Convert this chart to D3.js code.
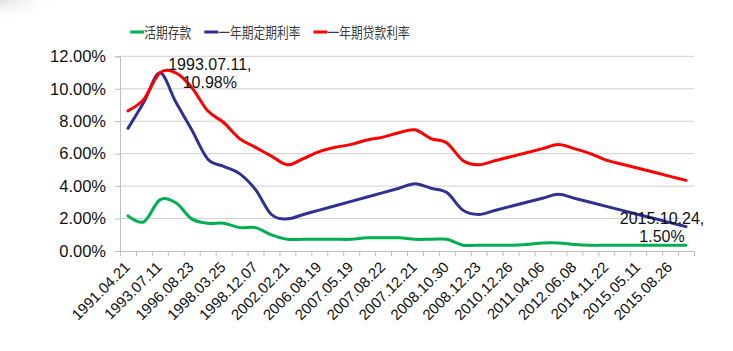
<!DOCTYPE html>
<html>
<head>
<meta charset="utf-8">
<script src="https://cdn.jsdelivr.net/npm/d3@7"></script>
<style>
  body { margin: 0; background: #fff; }
  svg { display: block; }
</style>
</head>
<body>
<svg width="733" height="351"></svg>
<script>
// Dates of each rate change (categories)
const dates = [
  "1991.04.21", "1993.05.15", "1993.07.11", "1996.05.01", "1996.08.23", "1997.10.23",
  "1998.03.25", "1998.07.01", "1998.12.07", "1999.06.10", "2002.02.21", "2006.04.28",
  "2006.08.19", "2007.03.18", "2007.05.19", "2007.07.21", "2007.08.22", "2007.09.15",
  "2007.12.21", "2008.10.09", "2008.10.30", "2008.11.27", "2008.12.23", "2010.10.20",
  "2010.12.26", "2011.02.09", "2011.04.06", "2011.07.07", "2012.06.08", "2012.07.06",
  "2014.11.22", "2015.03.01", "2015.05.11", "2015.06.28", "2015.08.26", "2015.10.24"
];

// Series values (percent)
const demandDeposit = [
  2.16, 1.80, 3.15, 2.97, 1.98, 1.71, 1.71, 1.44, 1.44, 0.99, 0.72, 0.72,
  0.72, 0.72, 0.72, 0.81, 0.81, 0.81, 0.72, 0.72, 0.72, 0.36, 0.36, 0.36,
  0.36, 0.40, 0.50, 0.50, 0.40, 0.35, 0.35, 0.35, 0.35, 0.35, 0.35, 0.35
];
const oneYearDeposit = [
  7.56, 9.18, 10.98, 9.18, 7.47, 5.67, 5.22, 4.77, 3.78, 2.25, 1.98, 2.25,
  2.52, 2.79, 3.06, 3.33, 3.60, 3.87, 4.14, 3.87, 3.60, 2.52, 2.25, 2.50,
  2.75, 3.00, 3.25, 3.50, 3.25, 3.00, 2.75, 2.50, 2.25, 2.00, 1.75, 1.50
];
const oneYearLoan = [
  8.64, 9.36, 10.98, 10.98, 10.08, 8.64, 7.92, 6.93, 6.39, 5.85, 5.31, 5.70,
  6.12, 6.39, 6.57, 6.84, 7.02, 7.29, 7.47, 6.93, 6.66, 5.58, 5.31, 5.56,
  5.81, 6.06, 6.31, 6.56, 6.31, 6.00, 5.60, 5.35, 5.10, 4.85, 4.60, 4.35
];

const seriesNames = ["活期存款", "一年期定期利率", "一年期贷款利率"];
const seriesColors = ["#00B050", "#2E3192", "#FF0000"];
const yTicks = [0, 2, 4, 6, 8, 10, 12];

const series = [demandDeposit, oneYearDeposit, oneYearLoan];

const svg = d3.select("svg");
const font = "Liberation Sans, Arial, sans-serif";

// faint shadow in the top left corner
const defs = svg.append("defs");
const grad = defs.append("radialGradient").attr("id", "corner")
  .attr("cx", 0).attr("cy", 0).attr("r", 1);
grad.append("stop").attr("offset", "0%").attr("stop-color", "#e2e2e2");
grad.append("stop").attr("offset", "100%").attr("stop-color", "#ffffff").attr("stop-opacity", 0);
svg.append("rect").attr("x", 0).attr("y", 0).attr("width", 60).attr("height", 22)
  .attr("fill", "url(#corner)");

// Scales
const x = d3.scaleBand().domain(dates).range([120, 694]);
const xIdx = d3.scaleLinear().domain([0, dates.length]).range([120, 694]);
const y = d3.scaleLinear().domain([0, 12]).range([251, 56.3]);
const cx = d => x(d) + x.bandwidth() / 2;

// Gridlines
svg.append("g")
  .selectAll("line")
  .data(yTicks.filter(t => t > 0))
  .join("line")
  .attr("x1", 120).attr("x2", 694)
  .attr("y1", d => y(d)).attr("y2", d => y(d))
  .attr("stroke", "#d0d0d0").attr("stroke-width", 1);

// Y axis
const yAxis = svg.append("g")
  .attr("transform", "translate(120,0)")
  .call(d3.axisLeft(y).tickValues(yTicks).tickSize(5).tickPadding(9)
    .tickFormat(d => d.toFixed(2) + "%"));
yAxis.selectAll("path, line").attr("stroke", "#bfbfbf");
yAxis.selectAll("text")
  .attr("font-family", font)
  .attr("font-size", 16.5).attr("fill", "#111");

// X axis tick marks at category boundaries
const xTicks = svg.append("g")
  .attr("transform", "translate(0,251)")
  .call(d3.axisBottom(xIdx).tickValues(d3.range(dates.length + 1)).tickSize(5).tickFormat(""));
xTicks.selectAll("path, line").attr("stroke", "#bfbfbf");

// X axis labels, every other category
const xLabels = svg.append("g")
  .attr("transform", "translate(0,251)")
  .call(d3.axisBottom(x).tickValues(dates.filter((d, i) => i % 2 === 0)).tickSize(0));
xLabels.select(".domain").remove();
xLabels.selectAll("text")
  .attr("font-family", font)
  .attr("font-size", 15).attr("fill", "#111")
  .attr("text-anchor", "end")
  .attr("y", 0).attr("dy", 0)
  .attr("transform", "translate(3,17) rotate(-45)");

// Lines
const line = d3.line()
  .x((v, i) => cx(dates[i]))
  .y(v => y(v))
  .curve(d3.curveCardinal.tension(0));

svg.append("g")
  .selectAll("path")
  .data(series)
  .join("path")
  .attr("d", d => line(d))
  .attr("fill", "none")
  .attr("stroke", (d, i) => seriesColors[i])
  .attr("stroke-width", 3)
  .attr("stroke-linejoin", "round")
  .attr("stroke-linecap", "round");

// Data labels
const notes = [
  {i: 2, v: oneYearDeposit[2], dx: 50},
  {i: dates.length - 1, v: oneYearDeposit[dates.length - 1], dx: -24}
];
notes.forEach(n => {
  const t = svg.append("text")
    .attr("font-family", font)
    .attr("font-size", 16).attr("fill", "#111")
    .attr("text-anchor", "middle");
  const px = cx(dates[n.i]) + n.dx, py = y(n.v);
  t.append("tspan").attr("x", px).attr("y", py - 3).text(dates[n.i] + ",");
  t.append("tspan").attr("x", px).attr("y", py + 15).text(n.v.toFixed(2) + "%");
});

// Legend (glyphs are a little narrow in the original, so squeeze them)
const legend = svg.append("g");
let lx = 0;
seriesNames.forEach((name, i) => {
  const g = legend.append("g").attr("transform", `translate(${lx},0)`);
  g.append("line").attr("x1", 0).attr("x2", 14).attr("y1", 0).attr("y2", 0)
    .attr("stroke", seriesColors[i]).attr("stroke-width", 3);
  const t = g.append("text").attr("x", 14).attr("y", 5.5)
    .attr("font-family", "Noto Sans CJK SC, sans-serif")
    .attr("font-size", 14.5).attr("fill", "#3a3a3a")
    .text(name);
  const w = t.node().getComputedTextLength() * 0.81;
  t.attr("textLength", w).attr("lengthAdjust", "spacingAndGlyphs");
  lx += 14 + w + 13;
});
lx -= 13;
legend.attr("transform", `translate(${270 - lx / 2},32)`);
</script>
</body>
</html>
